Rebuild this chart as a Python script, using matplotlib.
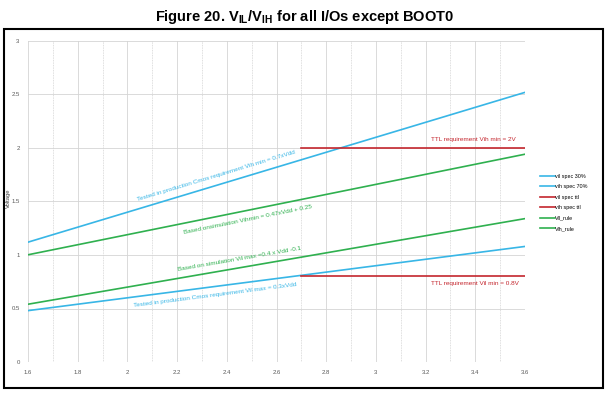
'''
Curvas V_IL / V_IH para todos los I/O excepto BOOT0.
'''
import numpy as np
import matplotlib.pyplot as plt
from matplotlib.patches import Rectangle

plt.rcParams['font.family'] = ['Liberation Sans', 'DejaVu Sans']
plt.rcParams['mathtext.fontset'] = 'custom'
plt.rcParams['mathtext.rm'] = 'Liberation Sans'
plt.rcParams['mathtext.bf'] = 'Liberation Sans:bold'

# datos
vdd = [1.6, 3.6]
vil_30 = [0.48, 1.08]
vih_70 = [1.12, 2.52]
vdd_ttl = [2.7, 3.6]
vil_ttl = [0.8, 0.8]
vih_ttl = [2.0, 2.0]
vil_rule = [0.54, 1.34]
vih_rule = [1.002, 1.942]

xticks = [1.6, 1.8, 2, 2.2, 2.4, 2.6, 2.8, 3, 3.2, 3.4, 3.6]
yticks = [0, 0.5, 1, 1.5, 2, 2.5, 3]

azul = '#38b6e6'
rojo = '#c4262e'
verde = '#2fb04f'

fig = plt.figure(figsize=(6.11, 3.94), dpi=100)
ax = fig.add_axes([28/611, 1-362/394, 497/611, 321/394])

ax.plot(vdd, vil_30, color=azul, lw=1.2, label='vil spec 30%')
ax.plot(vdd, vih_70, color=azul, lw=1.2, label='vih spec 70%')
ax.plot(vdd_ttl, vil_ttl, color=rojo, lw=1.2, label='vil spec ttl')
ax.plot(vdd_ttl, vih_ttl, color=rojo, lw=1.2, label='vih spec ttl')
ax.plot(vdd, vil_rule, color=verde, lw=1.2, label='Vil_rule')
ax.plot(vdd, vih_rule, color=verde, lw=1.2, label='Vih_rule')

ax.set_xlim(1.6, 3.6)
ax.set_ylim(0, 3)
for s in ax.spines.values():
    s.set_visible(False)
# rejilla
for i, x in enumerate(np.arange(1.6, 3.61, 0.1)):
    ax.axvline(x, color='#d4d4d4', lw=0.6, ls='-' if i % 2 == 0 else (0, (1, 1)), zorder=0)
for y in yticks:
    ax.axhline(y, color='#d4d4d4', lw=0.6, zorder=0)
ax.set_xticks(xticks)
ax.set_xticklabels([str(t) for t in xticks])
ax.set_yticks(yticks)
ax.set_yticklabels([str(t) for t in yticks])
ax.tick_params(length=0, labelsize=4.3, labelcolor='#595959', pad=6)

# anotaciones
def nota(x, y, pend, txt, col):
    ax.text(x, y, txt, color=col, fontsize=4.6, ha='center', va='center',
            rotation=np.degrees(np.arctan(pend)), transform_rotates_text=True,
            rotation_mode='anchor')

nota(2.357, 1.738, 0.7, 'Tested in production Cmos requirement Vih min = 0.7xVdd', azul)
nota(2.485, 1.327, 0.47, 'Based onsimulation Vihmin = 0.47xVdd + 0.25', verde)
nota(2.449, 0.963, 0.4, 'Based on simulation Vil max =0.4 x Vdd -0.1', verde)
nota(2.352, 0.626, 0.3, 'Tested in production Cmos requirement Vil max = 0.3xVdd', azul)
ax.text(3.391, 2.084, 'TTL requirement Vih min = 2V', color=rojo, fontsize=4.6, ha='center', va='center')
ax.text(3.399, 0.738, 'TTL requirement Vil min = 0.8V', color=rojo, fontsize=4.6, ha='center', va='center')

fig.legend(loc='upper left', bbox_to_anchor=(535/611, 1-169/394), frameon=False,
           fontsize=3.9, handlelength=2.7, labelspacing=1.0, handletextpad=0.1)

fig.text(8/611, 1-198/394, 'Voltage', rotation=90, fontsize=4.2, ha='center', va='center',
         color='#404040')

fig.text(305/611, 1-17/394, r'Figure 20. V$_{\mathbf{IL}}$/V$_{\mathbf{IH}}$ for all I/Os except BOOT0',
         fontsize=10.5, fontweight='bold', ha='center', va='center')

fig.patches.append(Rectangle((4/611, 1-388/394), 599/611, 359/394, transform=fig.transFigure,
                             fill=False, edgecolor='black', lw=1.5))

plt.savefig('out.png', dpi=100)
